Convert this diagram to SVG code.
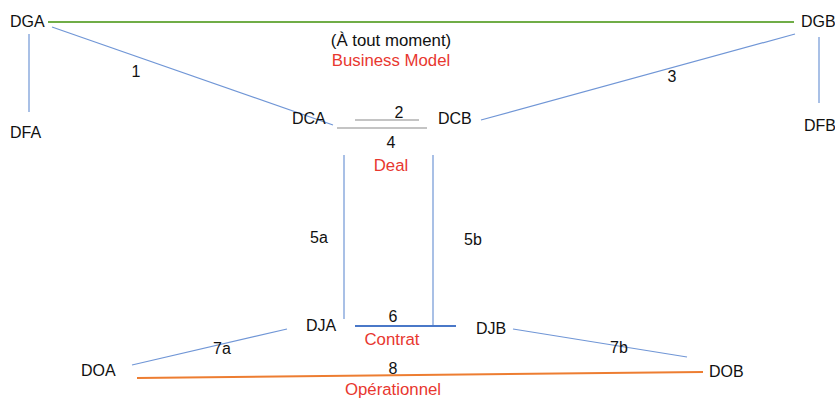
<svg xmlns="http://www.w3.org/2000/svg" width="835" height="400" viewBox="0 0 835 400">
<style>
text{font-family:"Liberation Sans",Arial,sans-serif;font-size:16px;fill:#111}
.r{fill:#e8372f;font-size:16.8px}
.m{text-anchor:middle}
.b{stroke:#7096d6;stroke-width:1.2;fill:none}
</style>
<rect width="835" height="400" fill="#fff"/>
<g id="connectors">
<line x1="48" y1="22" x2="794" y2="22" stroke="#70ad47" stroke-width="2"/>
<line class="b" x1="52" y1="27" x2="333" y2="125"/>
<line class="b" x1="29" y1="34" x2="29" y2="112"/>
<line class="b" x1="481" y1="120" x2="795" y2="34"/>
<line class="b" x1="819" y1="37" x2="819" y2="103"/>
<line x1="355" y1="120" x2="419" y2="120" stroke="#8a8a8a" stroke-width="1.2"/>
<line x1="337" y1="128" x2="427" y2="128" stroke="#8a8a8a" stroke-width="1.2"/>
<line class="b" x1="344" y1="155" x2="344" y2="319"/>
<line class="b" x1="433" y1="155" x2="433" y2="326"/>
<line x1="355" y1="326" x2="456" y2="326" stroke="#4a78c8" stroke-width="2"/>
<line class="b" x1="132" y1="365" x2="287" y2="329"/>
<line class="b" x1="513" y1="329" x2="687" y2="357"/>
<line x1="137" y1="378" x2="703" y2="372" stroke="#ed7d31" stroke-width="2"/>
<text class="m" x="136" y="77">1</text>
<text class="m" x="399" y="118">2</text>
<text class="m" x="672" y="82">3</text>
<text class="m" x="391" y="148">4</text>
<text class="m" x="319" y="243">5a</text>
<text class="m" x="473" y="245">5b</text>
<text class="m" x="393" y="322">6</text>
<text class="m" x="222" y="354">7a</text>
<text class="m" x="619" y="353">7b</text>
<text class="m" x="393" y="374">8</text>
<text class="m" x="391" y="46" style="font-size:16.8px">(À tout moment)</text>
<text class="m r" x="391" y="66">Business Model</text>
<text class="m r" x="391" y="171">Deal</text>
<text class="m r" x="392" y="345">Contrat</text>
<text class="m r" x="393" y="395">Opérationnel</text>
</g>
<g id="DGA"><text x="10" y="27">DGA</text></g>
<g id="DGB"><text x="801" y="27">DGB</text></g>
<g id="DFA"><text x="10" y="138">DFA</text></g>
<g id="DFB"><text x="804" y="131">DFB</text></g>
<g id="DCA"><text x="292" y="124">DCA</text></g>
<g id="DCB"><text x="438" y="124">DCB</text></g>
<g id="DJA"><text x="306" y="331">DJA</text></g>
<g id="DJB"><text x="476" y="334">DJB</text></g>
<g id="DOA"><text x="81" y="376">DOA</text></g>
<g id="DOB"><text x="709" y="377">DOB</text></g>
</svg>
